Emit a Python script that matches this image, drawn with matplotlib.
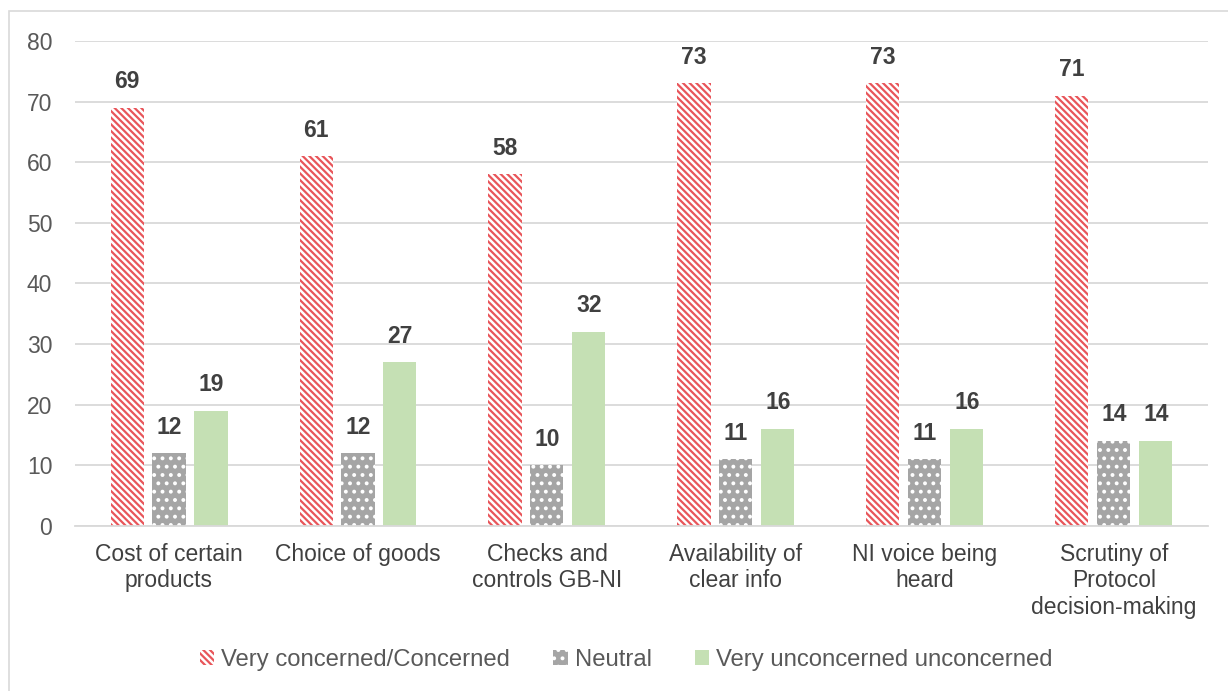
import matplotlib
matplotlib.use("Agg")
import matplotlib.pyplot as plt
import numpy as np
from matplotlib.patches import Rectangle

categories = ["Cost of certain\nproducts", "Choice of goods", "Checks and\ncontrols GB-NI",
              "Availability of\nclear info", "NI voice being\nheard", "Scrutiny of\nProtocol\ndecision-making"]
concerned = [69, 61, 58, 73, 73, 71]
neutral = [12, 12, 10, 11, 11, 14]
unconcerned = [19, 27, 32, 16, 16, 14]
series_names = ["Very concerned/Concerned", "Neutral", "Very unconcerned unconcerned"]
yticks = [0, 10, 20, 30, 40, 50, 60, 70, 80]

plt.rcParams['font.family'] = ['Liberation Sans', 'DejaVu Sans']
plt.rcParams['hatch.linewidth'] = 1.6

fig = plt.figure(figsize=(12.28, 6.91), dpi=100)
ax = fig.add_axes([0.0607, 0.239, 0.9233, 0.7017])

x = np.arange(len(categories))
w = 0.175
step = 0.222
fs = 16.5

red = '#E8555A'
b1 = ax.bar(x - step, concerned, w, facecolor='white', edgecolor=red, hatch='\\\\\\\\\\', linewidth=0, label=series_names[0])
b2 = ax.bar(x, neutral, w, facecolor='#A5A5A5', edgecolor='white', hatch='..', linewidth=0, label=series_names[1])
b3 = ax.bar(x + step, unconcerned, w, color='#C5E0B4', linewidth=0, label=series_names[2])

for bars, vals in [(b1, concerned), (b2, neutral), (b3, unconcerned)]:
    for b, v in zip(bars, vals):
        ax.text(b.get_x() + b.get_width() / 2, v + 2.4, str(v), ha='center', va='bottom',
                fontsize=fs, fontweight='bold', color='#404040')

ax.set_ylim(0, 80)
ax.set_xlim(-0.5, len(categories) - 0.5)
ax.set_yticks(yticks)
ax.set_xticks(x)
ax.set_xticklabels(categories, fontsize=fs, color='#404040', linespacing=1.22)
ax.tick_params(axis='y', labelsize=fs, labelcolor='#595959', length=0, pad=16)
ax.tick_params(axis='x', length=0, pad=12)
ax.yaxis.grid(True, color='#D9D9D9', linewidth=1.3)
ax.set_axisbelow(True)
for s in ['top', 'right', 'left']:
    ax.spines[s].set_visible(False)
ax.spines['bottom'].set_color('#D9D9D9')
ax.spines['bottom'].set_linewidth(1.3)

leg = fig.legend(handles=[b1, b2, b3], labels=series_names, loc='center', bbox_to_anchor=(0.51, 0.045),
                 ncol=3, frameon=False, fontsize=17.2, handlelength=0.6, handleheight=0.6,
                 handletextpad=0.3, columnspacing=1.8)
for t in leg.get_texts():
    t.set_color('#595959')

fig.patches.append(Rectangle((0.0073, -0.01), 1.0, 0.994, transform=fig.transFigure,
                             fill=False, edgecolor='#D9D9D9', linewidth=1.2))

fig.savefig('out.png', dpi=100)
